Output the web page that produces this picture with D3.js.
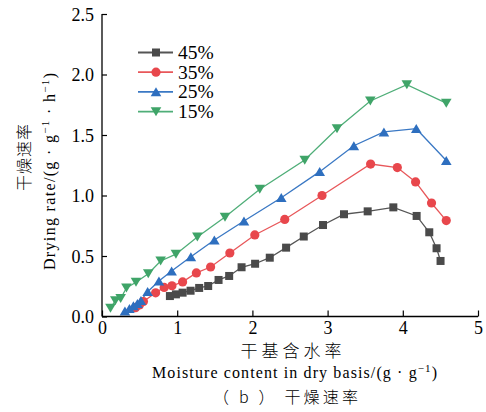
<!DOCTYPE html>
<html><head><meta charset="utf-8">
<script src="https://cdn.jsdelivr.net/npm/d3@7"></script>
<style>body{margin:0;background:#fff}svg{display:block}</style>
</head><body>
<script>
// ---- data ----
const seriesNames = ["45%", "35%", "25%", "15%"];
const x45 = [0.903,0.983,1.072,1.178,1.292,1.412,1.550,1.691,1.856,2.036,2.231,2.448,2.683,2.939,3.218,3.533,3.874,4.184,4.352,4.449,4.502];
const y45 = [0.169,0.183,0.197,0.213,0.236,0.252,0.302,0.335,0.407,0.436,0.486,0.569,0.661,0.756,0.845,0.869,0.902,0.831,0.696,0.564,0.459];
const x35 = [0.445,0.498,0.551,0.713,0.827,0.930,1.072,1.255,1.444,1.700,2.032,2.430,2.926,3.572,3.927,4.170,4.382,4.578];
const y35 = [0.073,0.095,0.124,0.196,0.240,0.254,0.286,0.360,0.409,0.525,0.674,0.802,1.000,1.260,1.231,1.112,0.938,0.793];
const x25 = [0.305,0.365,0.418,0.471,0.518,0.607,0.757,0.926,1.182,1.494,1.888,2.384,2.895,3.349,3.749,4.179,4.578];
const y25 = [0.045,0.066,0.087,0.107,0.132,0.205,0.293,0.376,0.494,0.632,0.789,0.982,1.197,1.411,1.525,1.552,1.289];
const x15 = [0.113,0.177,0.248,0.325,0.452,0.615,0.780,0.983,1.268,1.636,2.098,2.696,3.125,3.568,4.054,4.578];
const y15 = [0.070,0.130,0.149,0.236,0.283,0.354,0.459,0.515,0.657,0.822,1.052,1.293,1.552,1.781,1.916,1.764];
const xTicks = [0,1,2,3,4,5];
const yTicks = [0.0,0.5,1.0,1.5,2.0,2.5];

// ---- styles ----
const styles = [
  {line:"#555555", fill:"#4a4a4a", shape:"square"},
  {line:"#e8575a", fill:"#e8474c", shape:"circle"},
  {line:"#3a78c4", fill:"#2e6fbf", shape:"up"},
  {line:"#4fae78", fill:"#3fa468", shape:"down"}
];
const data = [[x45,y45],[x35,y35],[x25,y25],[x15,y15]].map(([xs,ys]) => xs.map((x,i)=>({x, y: ys[i]})));

const W = 486, H = 412;
const svg = d3.select("body").append("svg").attr("width", W).attr("height", H);
const x = d3.scaleLinear().domain([0,5]).range([102,478]);
const y = d3.scaleLinear().domain([0,2.5]).range([316.5,14]);
const serif = "'Liberation Serif', Tinos, 'Times New Roman', 'DejaVu Serif', serif";
const cjk = "'Noto Sans CJK SC', sans-serif";

function marker(g, shape, fill) {
  if (shape === "square") g.append("rect").attr("x",-4).attr("y",-4).attr("width",8).attr("height",8).attr("fill",fill);
  else if (shape === "circle") g.append("circle").attr("r",4.6).attr("fill",fill);
  else if (shape === "up") g.append("path").attr("d","M0,-4.6L5.3,4.4L-5.3,4.4Z").attr("fill",fill);
  else g.append("path").attr("d","M0,4.6L5.3,-4.4L-5.3,-4.4Z").attr("fill",fill);
}

// lines and markers
const line = d3.line().x(d=>x(d.x)).y(d=>y(d.y));
data.forEach((s,i) => {
  svg.append("path").datum(s).attr("d", line).attr("fill","none")
    .attr("stroke", styles[i].line).attr("stroke-width",1.3);
});
data.forEach((s,i) => {
  s.forEach(d => {
    const g = svg.append("g").attr("transform",`translate(${x(d.x)},${y(d.y)})`);
    marker(g, styles[i].shape, styles[i].fill);
  });
});

// axes
const xAxis = d3.axisBottom(x).tickValues(xTicks).tickSize(-6).tickPadding(5).tickFormat(d3.format("d"));
const yAxis = d3.axisLeft(y).tickValues(yTicks).tickSize(-5).tickPadding(8).tickFormat(d3.format(".1f"));
const gx = svg.append("g").attr("transform",`translate(0,${y(0)})`).call(xAxis);
const gy = svg.append("g").attr("transform",`translate(${x(0)},0)`).call(yAxis);
[gx,gy].forEach(g => {
  g.attr("font-family", null).attr("font-size", null);
  g.select(".domain").attr("stroke","#000").attr("stroke-width",1.3);
  g.selectAll(".tick line").attr("stroke","#000").attr("stroke-width",1.2);
  g.selectAll(".tick text").style("font-family",serif).style("font-size","18px").attr("fill","#000");
});
gx.select(".domain").attr("d",`M${x(0)},0H${x(5)}`);
gy.select(".domain").attr("d",`M0,${y(0)}V${y(2.5)}`);
gy.selectAll(".tick text").attr("dy","0.35em");

// legend
const lg = svg.append("g");
seriesNames.forEach((n,i) => {
  const yy = 52.5 + i*19.7;
  lg.append("line").attr("x1",138).attr("x2",173).attr("y1",yy).attr("y2",yy)
    .attr("stroke",styles[i].line).attr("stroke-width",1.8);
  const g = lg.append("g").attr("transform",`translate(156,${yy})`);
  marker(g, styles[i].shape, styles[i].fill);
  lg.append("text").attr("x",178).attr("y",yy+6.5).style("font-family",serif).style("font-size","19.5px")
    .attr("fill","#000").text(n);
});

// x axis titles
svg.append("text").attr("x",293).attr("y",357).attr("text-anchor","middle")
  .style("font-family",cjk).style("font-size","17px").style("font-weight","300")
  .attr("letter-spacing",4).text("干基含水率");
const t2 = svg.append("text").attr("x",152).attr("y",378).style("font-family",serif).style("font-size","16px")
  .attr("textLength",285).attr("lengthAdjust","spacing");
t2.append("tspan").text("Moisture content in dry basis/(g · g");
t2.append("tspan").style("font-size","11px").attr("dy",-6).text("−1");
t2.append("tspan").attr("dy",6).text(")");
svg.append("text").attr("x",213).attr("y",403)
  .style("font-family",cjk).style("font-size","16px").style("font-weight","300")
  .attr("textLength",145).attr("lengthAdjust","spacing").text("（ b ） 干燥速率");

// y axis titles
svg.append("text").attr("transform","translate(30,157) rotate(-90)").attr("text-anchor","middle")
  .style("font-family",cjk).style("font-size","16px").style("font-weight","300")
  .attr("letter-spacing",1).text("干燥速率");
const t3 = svg.append("text").attr("transform","translate(55,270) rotate(-90)")
  .style("font-family",serif).style("font-size","16px").attr("textLength",197).attr("lengthAdjust","spacing");
t3.append("tspan").text("Drying rate/(g · g");
t3.append("tspan").style("font-size","11px").attr("dy",-6).text("−1");
t3.append("tspan").attr("dy",6).text(" · h");
t3.append("tspan").style("font-size","11px").attr("dy",-6).text("−1");
t3.append("tspan").attr("dy",6).text(")");
</script>
</body></html>
